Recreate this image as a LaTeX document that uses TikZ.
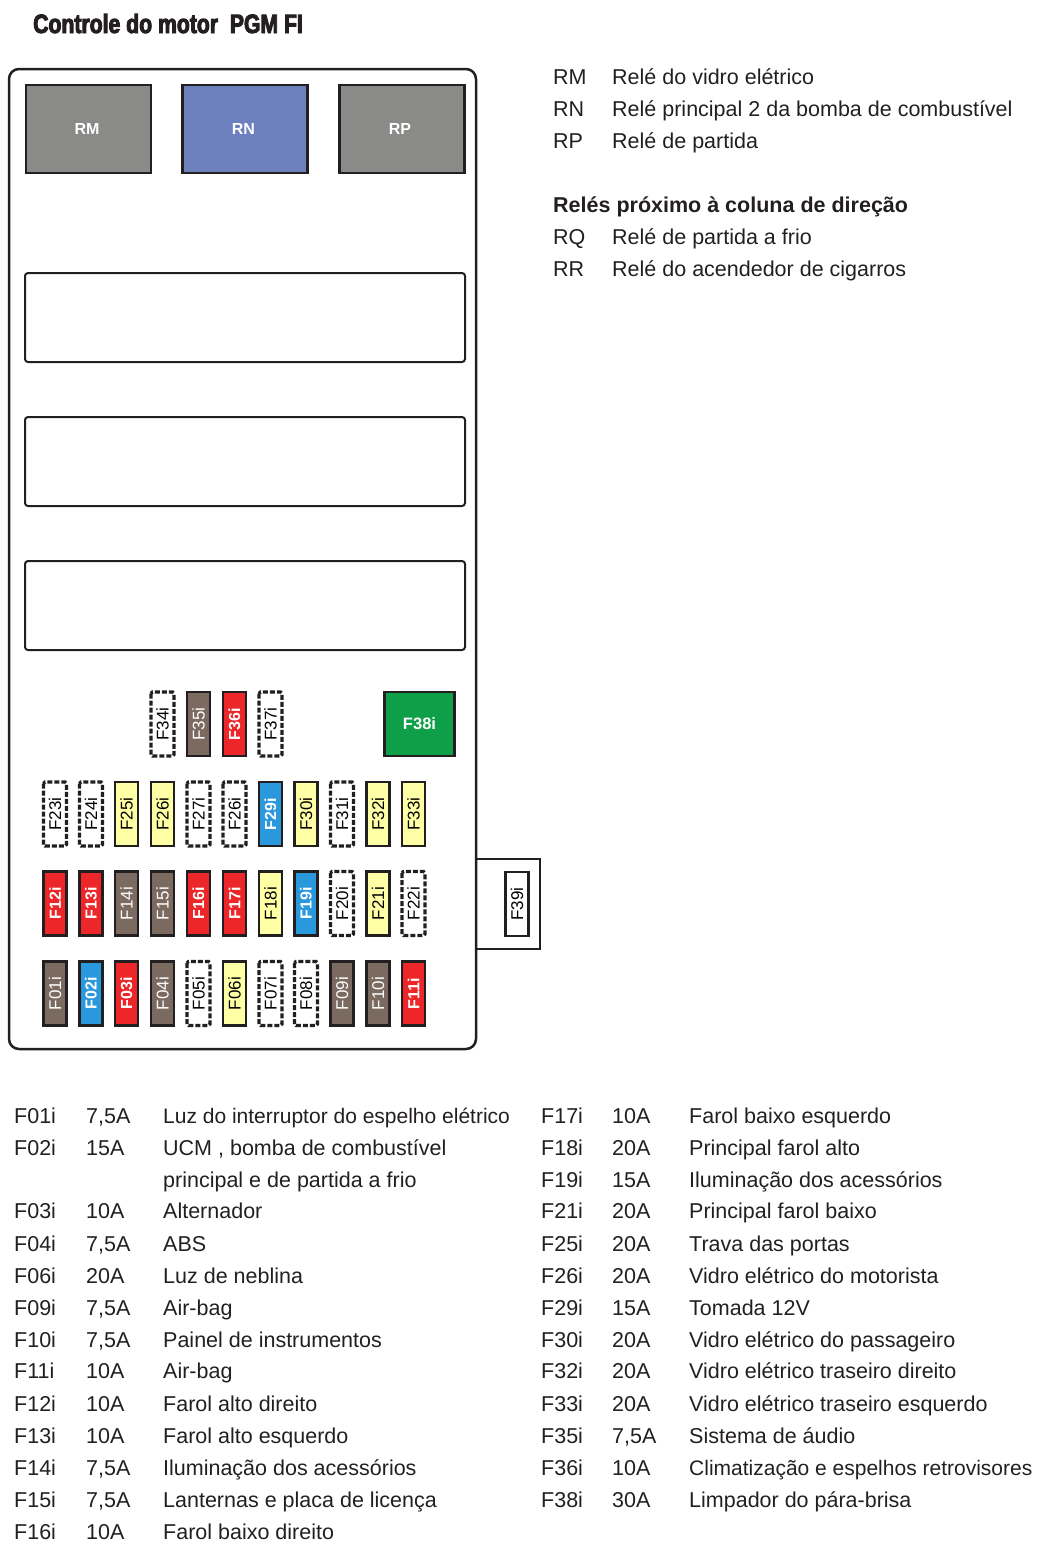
\documentclass[tikz,border=0pt]{standalone}
\usepackage{fontspec}
\setmainfont{Liberation Sans}
\newfontfamily\titlefont[FakeStretch=0.8,FakeBold=3.5]{Liberation Sans Bold}
\usepackage{tikz}

\definecolor{fusered}{HTML}{ED2629}
\definecolor{fusebrown}{HTML}{7A6A60}
\definecolor{fuseblue}{HTML}{2998DC}
\definecolor{fuseyellow}{HTML}{FFFFA6}
\definecolor{fusegreen}{HTML}{0F9F48}
\definecolor{relaygray}{HTML}{8A8A88}
\definecolor{relayblue}{HTML}{6C80BD}
\definecolor{inkline}{HTML}{231F20}

\tikzset{
	fuse/.style={draw=inkline, line width=2.5, minimum width=64, minimum height=23, inner sep=0, rotate=90, font=\fontsize{17}{17}\selectfont},
	fusered/.style={fuse, fill=fusered, text=white, font=\fontsize{16}{16}\selectfont\bfseries},
	fusebrown/.style={fuse, fill=fusebrown, text=white},
	fuseblue/.style={fuse, fill=fuseblue, text=white, font=\fontsize{16}{16}\selectfont\bfseries},
	fuseyellow/.style={fuse, fill=fuseyellow, text=black},
	fuseopen/.style={fuse, line width=3.4, dash pattern=on 5 off 2, rounded corners=1.5},
	relay/.style={draw=inkline, line width=2.4, minimum width=125, minimum height=88.5, inner sep=0, text=white, font=\fontsize{16}{16}\selectfont\bfseries},
	slot/.style={draw=inkline, line width=2, rounded corners=3},
	txt/.style={anchor=base west, inner sep=0, text=inkline, font=\fontsize{21.5}{21.5}\selectfont},
	txttight/.style={txt, font=\fontsize{21}{21}\selectfont},
}

\begin{document}
\begin{tikzpicture}[x=1pt, y=-1pt]
	\useasboundingbox (0,0) rectangle (1047,1559);

	\node[anchor=base west, inner sep=0, text=inkline, font=\fontsize{26.5}{26.5}\titlefont] (title) at (33,33) {Controle do motor\ \ PGM FI};

	% housing
	\draw[draw=inkline, line width=2.5, rounded corners=10] (9,69) rectangle (476,1049);
	\draw[draw=inkline, line width=2.2] (477,859) -- (540,859) -- (540,949) -- (477,949);

	% relays
	\node[relay, fill=relaygray] (RM) at (88.5,129) {\hspace*{-3pt}RM};
	\node[relay, fill=relayblue] (RN) at (245,129) {\hspace*{-3pt}RN};
	\node[relay, fill=relaygray] (RP) at (402,129) {\hspace*{-4pt}RP};

	\draw[slot] (25,273) rectangle (465,362);
	\draw[slot] (25,417) rectangle (465,506);
	\draw[slot] (25,561) rectangle (465,650);

	% top row
	\node[fuseopen] (F34) at (162.5,724) {F34i};
	\node[fusebrown] (F35) at (198.5,724) {F35i};
	\node[fusered] (F36) at (234.5,724) {F36i};
	\node[fuseopen] (F37) at (270.5,724) {F37i};
	\node[draw=inkline, line width=2.5, fill=fusegreen, minimum width=70, minimum height=64, inner sep=0, text=white, font=\fontsize{16.5}{16.5}\selectfont\bfseries] (F38) at (419.5,724) {F38i};

	% second row
	\node[fuseopen] (F23) at (55,814) {F23i};
	\node[fuseopen] (F24) at (91,814) {F24i};
	\node[fuseyellow] (F25) at (126.5,814) {F25i};
	\node[fuseyellow] (F26a) at (162.5,814) {F26i};
	\node[fuseopen] (F27) at (198.5,814) {F27i};
	\node[fuseopen] (F26b) at (234.5,814) {F26i};
	\node[fuseblue] (F29) at (270.5,814) {F29i};
	\node[fuseyellow] (F30) at (306,814) {F30i};
	\node[fuseopen] (F31) at (342,814) {F31i};
	\node[fuseyellow] (F32) at (378,814) {F32i};
	\node[fuseyellow] (F33) at (413.5,814) {F33i};

	% third row
	\node[fusered] (F12) at (55,903.5) {F12i};
	\node[fusered] (F13) at (91,903.5) {F13i};
	\node[fusebrown] (F14) at (126.5,903.5) {F14i};
	\node[fusebrown] (F15) at (162.5,903.5) {F15i};
	\node[fusered] (F16) at (198.5,903.5) {F16i};
	\node[fusered] (F17) at (234.5,903.5) {F17i};
	\node[fuseyellow] (F18) at (270.5,903.5) {F18i};
	\node[fuseblue] (F19) at (306,903.5) {F19i};
	\node[fuseopen] (F20) at (342,903.5) {F20i};
	\node[fuseyellow] (F21) at (378,903.5) {F21i};
	\node[fuseopen] (F22) at (413.5,903.5) {F22i};
	\node[fuse, line width=2.2, fill=white] (F39) at (517,904) {F39i};

	% bottom row
	\node[fusebrown] (F01) at (55,993.5) {F01i};
	\node[fuseblue] (F02) at (91,993.5) {F02i};
	\node[fusered] (F03) at (126.5,993.5) {F03i};
	\node[fusebrown] (F04) at (162.5,993.5) {F04i};
	\node[fuseopen] (F05) at (198.5,993.5) {F05i};
	\node[fuseyellow] (F06) at (234.5,993.5) {F06i};
	\node[fuseopen] (F07) at (270.5,993.5) {F07i};
	\node[fuseopen] (F08) at (306,993.5) {F08i};
	\node[fusebrown] (F09) at (342,993.5) {F09i};
	\node[fusebrown] (F10) at (378,993.5) {F10i};
	\node[fusered] (F11) at (413.5,993.5) {F11i};

	% relay legend
	\node[txt] (lRM) at (553,84) {RM};
	\node[txt] (tRM) at (612,84) {Relé do vidro elétrico};
	\node[txt] (lRN) at (553,116) {RN};
	\node[txt] (tRN) at (612,116) {Relé principal 2 da bomba de combustível};
	\node[txt] (lRP) at (553,148) {RP};
	\node[txt] (tRP) at (612,148) {Relé de partida};
	\node[txt, font=\fontsize{21.5}{21.5}\selectfont\bfseries] (head) at (553,212) {Relés próximo à coluna de direção};
	\node[txt] (lRQ) at (553,244) {RQ};
	\node[txt] (tRQ) at (612,244) {Relé de partida a frio};
	\node[txt] (lRR) at (553,276) {RR};
	\node[txt] (tRR) at (612,276) {Relé do acendedor de cigarros};

	% left fuse table
	\node[txt] at (14,1123) {F01i};
	\node[txt] at (86,1123) {7,5A};
	\node[txttight] at (163,1123) {Luz do interruptor do espelho elétrico};
	\node[txt] at (14,1155) {F02i};
	\node[txt] at (86,1155) {15A};
	\node[txt] at (163,1155) {UCM , bomba de combustível};
	\node[txt] at (163,1187) {principal e de partida a frio};
	\node[txt] at (14,1218) {F03i};
	\node[txt] at (86,1218) {10A};
	\node[txt] at (163,1218) {Alternador};
	\node[txt] at (14,1251) {F04i};
	\node[txt] at (86,1251) {7,5A};
	\node[txt] at (163,1251) {ABS};
	\node[txt] at (14,1283) {F06i};
	\node[txt] at (86,1283) {20A};
	\node[txt] at (163,1283) {Luz de neblina};
	\node[txt] at (14,1315) {F09i};
	\node[txt] at (86,1315) {7,5A};
	\node[txt] at (163,1315) {Air-bag};
	\node[txt] at (14,1347) {F10i};
	\node[txt] at (86,1347) {7,5A};
	\node[txt] at (163,1347) {Painel de instrumentos};
	\node[txt] at (14,1378) {F11i};
	\node[txt] at (86,1378) {10A};
	\node[txt] at (163,1378) {Air-bag};
	\node[txt] at (14,1411) {F12i};
	\node[txt] at (86,1411) {10A};
	\node[txt] at (163,1411) {Farol alto direito};
	\node[txt] at (14,1443) {F13i};
	\node[txt] at (86,1443) {10A};
	\node[txt] at (163,1443) {Farol alto esquerdo};
	\node[txt] at (14,1475) {F14i};
	\node[txt] at (86,1475) {7,5A};
	\node[txt] at (163,1475) {Iluminação dos acessórios};
	\node[txt] at (14,1507) {F15i};
	\node[txt] at (86,1507) {7,5A};
	\node[txt] at (163,1507) {Lanternas e placa de licença};
	\node[txt] at (14,1539) {F16i};
	\node[txt] at (86,1539) {10A};
	\node[txt] at (163,1539) {Farol baixo direito};

	% right fuse table
	\node[txt] at (541,1123) {F17i};
	\node[txt] at (612,1123) {10A};
	\node[txt] at (689,1123) {Farol baixo esquerdo};
	\node[txt] at (541,1155) {F18i};
	\node[txt] at (612,1155) {20A};
	\node[txt] at (689,1155) {Principal farol alto};
	\node[txt] at (541,1187) {F19i};
	\node[txt] at (612,1187) {15A};
	\node[txt] at (689,1187) {Iluminação dos acessórios};
	\node[txt] at (541,1218) {F21i};
	\node[txt] at (612,1218) {20A};
	\node[txt] at (689,1218) {Principal farol baixo};
	\node[txt] at (541,1251) {F25i};
	\node[txt] at (612,1251) {20A};
	\node[txt] at (689,1251) {Trava das portas};
	\node[txt] at (541,1283) {F26i};
	\node[txt] at (612,1283) {20A};
	\node[txt] at (689,1283) {Vidro elétrico do motorista};
	\node[txt] at (541,1315) {F29i};
	\node[txt] at (612,1315) {15A};
	\node[txt] at (689,1315) {Tomada 12V};
	\node[txt] at (541,1347) {F30i};
	\node[txt] at (612,1347) {20A};
	\node[txt] at (689,1347) {Vidro elétrico do passageiro};
	\node[txt] at (541,1378) {F32i};
	\node[txt] at (612,1378) {20A};
	\node[txt] at (689,1378) {Vidro elétrico traseiro direito};
	\node[txt] at (541,1411) {F33i};
	\node[txt] at (612,1411) {20A};
	\node[txt] at (689,1411) {Vidro elétrico traseiro esquerdo};
	\node[txt] at (541,1443) {F35i};
	\node[txt] at (612,1443) {7,5A};
	\node[txt] at (689,1443) {Sistema de áudio};
	\node[txt] at (541,1475) {F36i};
	\node[txt] at (612,1475) {10A};
	\node[txttight] at (689,1475) {Climatização e espelhos retrovisores};
	\node[txt] at (541,1507) {F38i};
	\node[txt] at (612,1507) {30A};
	\node[txt] at (689,1507) {Limpador do pára-brisa};
\end{tikzpicture}
\end{document}
